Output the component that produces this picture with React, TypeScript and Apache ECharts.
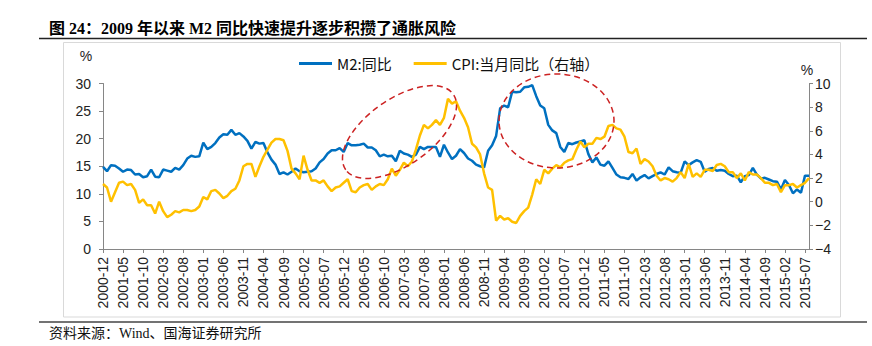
import React, { useEffect, useRef } from "react";
import * as echarts from "echarts";

// Monthly categories 2000-12 … 2015-08
const months: string[] = [];
{
  let y = 2000;
  let m = 12;
  while (y < 2015 || (y === 2015 && m <= 8)) {
    months.push(`${y}-${String(m).padStart(2, "0")}`);
    m += 1;
    if (m > 12) {
      m = 1;
      y += 1;
    }
  }
}

// M2 year-on-year, % (left axis)
const m2Values: number[] = [
  14.9,
  14.1, 15.2, 15.1, 14.6, 14.0, 14.4, 14.3, 13.5, 13.6, 13.0, 13.2, 14.4,
  13.1, 13.0, 14.4, 14.2, 14.0, 14.7, 14.4, 15.2, 16.4, 16.9, 16.7, 16.8,
  19.3, 18.1, 18.5, 19.2, 20.2, 20.8, 20.7, 21.6, 20.7, 21.0, 20.4, 19.6,
  18.2, 19.4, 19.1, 19.2, 17.5, 16.2, 15.3, 13.6, 13.9, 13.5, 14.0, 14.6,
  14.1, 13.9, 14.0, 14.1, 14.6, 15.7, 16.3, 17.3, 17.9, 17.9, 18.3, 17.6,
  19.2, 18.8, 18.8, 18.9, 19.1, 18.4, 18.4, 17.9, 16.8, 17.1, 16.8, 16.9,
  15.9, 17.8, 17.3, 17.1, 16.7, 17.1, 18.5, 18.1, 18.5, 18.5, 18.5, 16.7,
  18.9, 17.5, 16.3, 16.9, 18.1, 17.4, 16.4, 16.0, 15.3, 15.0, 14.8, 17.8,
  18.8, 20.5, 25.5, 26.0, 25.7, 28.5, 28.4, 28.5, 29.3, 29.4, 29.7, 27.7,
  26.0, 25.5, 22.5, 21.5, 21.0, 18.5, 17.6, 19.2, 19.0, 19.3, 19.5, 19.7,
  17.2, 15.7, 16.6, 15.3, 15.1, 15.9, 14.7, 13.5, 13.0, 12.9, 12.7, 13.6,
  12.4, 13.0, 13.4, 12.8, 13.2, 13.6, 13.9, 13.5, 14.8, 14.1, 13.9, 13.8,
  15.9, 15.2, 15.7, 16.1, 15.8, 14.0, 14.5, 14.7, 14.2, 14.3, 14.2, 13.6,
  13.2, 13.3, 12.1, 13.2, 13.4, 14.7, 13.5, 12.8, 12.9, 12.6, 12.3, 12.2,
  10.8, 12.5, 11.6, 10.1, 10.8, 10.2, 13.3, 13.3,
];

// CPI year-on-year, % (right axis)
const cpiValues: number[] = [
  1.5,
  1.2, 0.0, 0.8, 1.6, 1.7, 1.4, 1.5, 1.0, -0.1, 0.2, -0.3, -0.3,
  -1.0, 0.0, -0.8, -1.3, -1.1, -0.8, -0.9, -0.7, -0.7, -0.8, -0.7, -0.4,
  0.4, 0.2, 0.9, 1.0, 0.7, 0.3, 0.5, 0.9, 1.1, 1.8, 3.0, 3.2,
  3.2, 2.1, 3.0, 3.8, 4.4, 5.0, 5.3, 5.3, 5.2, 4.3, 2.8, 2.4,
  1.9, 3.9, 2.7, 1.8, 1.8, 1.6, 1.8, 1.3, 0.9, 1.2, 1.3, 1.6,
  1.9, 0.9, 0.8, 1.2, 1.4, 1.5, 1.0, 1.3, 1.5, 1.4, 1.9, 2.8,
  2.2, 2.7, 3.3, 3.0, 3.4, 4.4, 5.6, 6.5, 6.2, 6.5, 6.9, 6.5,
  7.1, 8.7, 8.3, 8.5, 7.7, 7.1, 6.3, 4.9, 4.6, 4.0, 2.4, 1.2,
  1.0, -1.6, -1.2, -1.5, -1.4, -1.7, -1.8, -1.2, -0.8, -0.5, 0.6, 1.9,
  1.5, 2.7, 2.4, 2.8, 3.1, 2.9, 3.3, 3.5, 3.6, 4.4, 5.1, 4.6,
  4.9, 4.9, 5.4, 5.3, 5.5, 6.4, 6.5, 6.2, 6.1, 5.5, 4.2, 4.1,
  4.5, 3.2, 3.6, 3.4, 3.0, 2.2, 1.8, 2.0, 1.9, 1.7, 2.0, 2.5,
  2.0, 3.2, 2.1, 2.4, 2.1, 2.7, 2.7, 2.6, 3.1, 3.2, 3.0, 2.5,
  2.5, 2.0, 2.4, 1.8, 2.5, 2.3, 2.3, 2.0, 1.6, 1.6, 1.4, 1.5,
  0.8, 1.4, 1.4, 1.5, 1.2, 1.4, 1.6, 2.0,
];

const seriesNames = ["M2:同比", "CPI:当月同比（右轴）"];
const titleText = "图 24：2009 年以来 M2 同比快速提升逐步积攒了通胀风险";
const sourceText = "资料来源：Wind、国海证券研究所";

const SANS = '"Liberation Sans", Arial, "Noto Sans CJK SC", sans-serif';
const SERIF = '"Liberation Serif", "Times New Roman", "Noto Sans CJK SC", serif';
const BLUE = "#0070C0";
const YELLOW = "#FFC000";
const AXIS = "#868686";
const RED = "#CC2222";

export default function App() {
  const ref = useRef<HTMLDivElement>(null);

  useEffect(() => {
    if (!ref.current) return;
    const chart = echarts.init(ref.current, undefined, { renderer: "svg" });
    const option: any = {
      animation: false,
      backgroundColor: "#ffffff",
      grid: { left: 103, right: 63, top: 83.5, bottom: 97, containLabel: false },
      legend: {
        left: 299,
        top: 56,
        padding: 0,
        itemWidth: 33,
        itemHeight: 3,
        itemGap: 22,
        icon: "rect",
        data: seriesNames,
        textStyle: { fontSize: 15, color: "#111", fontFamily: '"Noto Sans CJK SC", sans-serif' },
      },
      xAxis: {
        type: "category",
        data: months,
        boundaryGap: false,
        axisLine: { show: true, lineStyle: { color: AXIS, width: 1 } },
        axisTick: { show: true, interval: 4, length: 4, lineStyle: { color: AXIS } },
        axisLabel: {
          interval: 4,
          rotate: 90,
          margin: 8,
          fontSize: 14,
          color: "#222",
          fontFamily: SANS,
        },
        splitLine: { show: false },
      },
      yAxis: [
        {
          type: "value",
          position: "left",
          min: 0,
          max: 30,
          interval: 5,
          axisLine: { show: true, lineStyle: { color: AXIS, width: 1 } },
          axisTick: { show: true, length: 4, lineStyle: { color: AXIS } },
          axisLabel: { margin: 12, fontSize: 14, color: "#222", fontFamily: SANS },
          splitLine: { show: false },
        },
        {
          type: "value",
          position: "right",
          min: -4,
          max: 10,
          interval: 2,
          axisLine: { show: true, lineStyle: { color: AXIS, width: 1 } },
          axisTick: { show: true, length: 4, lineStyle: { color: AXIS } },
          axisLabel: {
            margin: 6,
            fontSize: 14,
            color: "#222",
            fontFamily: SANS,
            formatter: (v: number) => (v < 0 ? "−" + Math.abs(v) : String(v)),
          },
          splitLine: { show: false },
        },
      ],
      series: [
        {
          name: seriesNames[0],
          type: "line",
          yAxisIndex: 0,
          data: m2Values,
          symbol: "none",
          showSymbol: false,
          lineStyle: { color: BLUE, width: 2.5 },
          itemStyle: { color: BLUE },
          z: 2,
        },
        {
          name: seriesNames[1],
          type: "line",
          yAxisIndex: 1,
          data: cpiValues,
          symbol: "none",
          showSymbol: false,
          lineStyle: { color: YELLOW, width: 2.5 },
          itemStyle: { color: YELLOW },
          z: 3,
        },
      ],
      graphic: [
        {
          type: "text",
          x: 49,
          y: 28,
          style: {
            text: titleText,
            font: `bold 16px ${SERIF}`,
            fill: "#000",
            align: "left",
            verticalAlign: "middle",
          },
        },
        {
          type: "line",
          shape: { x1: 39, y1: 38.5, x2: 867, y2: 38.5 },
          style: { stroke: "#222", lineWidth: 1.5 },
        },
        {
          type: "rect",
          z: -1,
          shape: { x: 63.5, y: 42.5, width: 777, height: 274.5 },
          style: { fill: "none", stroke: "#D9D9D9", lineWidth: 1 },
        },
        {
          type: "line",
          shape: { x1: 39, y1: 322, x2: 867, y2: 322 },
          style: { stroke: "#444", lineWidth: 1.5 },
        },
        {
          type: "text",
          x: 49,
          y: 333,
          style: {
            text: sourceText,
            font: `14px ${SERIF}`,
            fill: "#111",
            align: "left",
            verticalAlign: "middle",
          },
        },
        {
          type: "text",
          x: 86,
          y: 56,
          style: { text: "%", font: `14px ${SANS}`, fill: "#222", align: "center", verticalAlign: "middle" },
        },
        {
          type: "text",
          x: 807,
          y: 70,
          style: { text: "%", font: `14px ${SANS}`, fill: "#222", align: "center", verticalAlign: "middle" },
        },
        {
          type: "ellipse",
          z: 100,
          x: 399.5,
          y: 132,
          rotation: (35 * Math.PI) / 180,
          shape: { cx: 0, cy: 0, rx: 65.7, ry: 33 },
          style: { fill: "none", stroke: RED, lineWidth: 1.5, lineDash: [6, 4] },
        },
        {
          type: "ellipse",
          z: 100,
          x: 556.5,
          y: 121,
          rotation: 0,
          shape: { cx: 0, cy: 0, rx: 57.5, ry: 47 },
          style: { fill: "none", stroke: RED, lineWidth: 1.5, lineDash: [6, 4] },
        },
      ],
    };
    chart.setOption(option);
    return () => chart.dispose();
  }, []);

  return (
    <div
      ref={ref}
      style={{ position: "fixed", left: 0, top: 0, width: 872, height: 346, background: "#fff" }}
    />
  );
}
